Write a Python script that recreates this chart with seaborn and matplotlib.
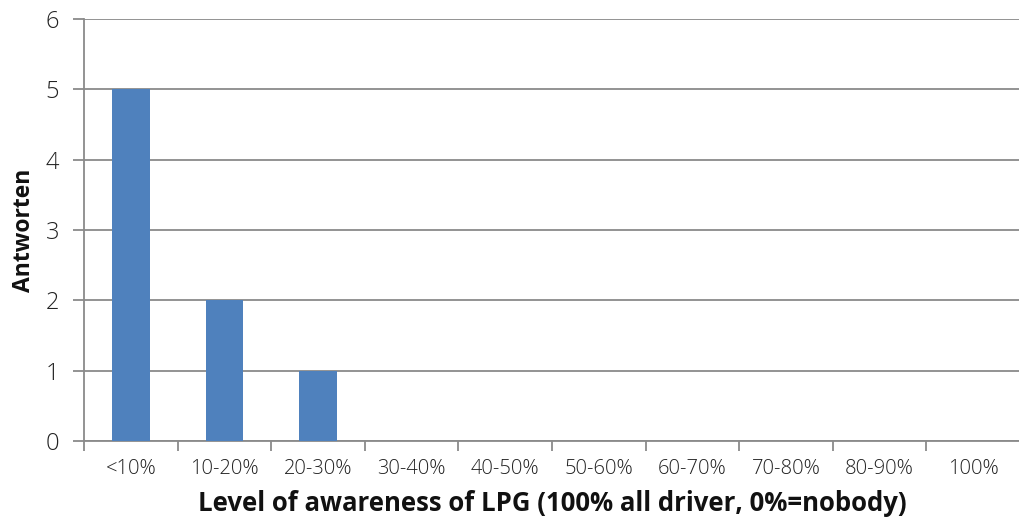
import matplotlib
matplotlib.use("Agg")
import matplotlib.pyplot as plt
import seaborn as sns
import pandas as pd

categories = ["<10%", "10-20%", "20-30%", "30-40%", "40-50%",
              "50-60%", "60-70%", "70-80%", "80-90%", "100%"]
answers = [5, 2, 1, 0, 0, 0, 0, 0, 0, 0]
y_ticks = [0, 1, 2, 3, 4, 5, 6]

sns.set_theme(style="white")
plt.rcParams["font.family"] = ["Open Sans", "DejaVu Sans"]

df = pd.DataFrame({"level": categories, "answers": answers})

W, H = 1020, 524
fig = plt.figure(figsize=(W / 100, H / 100), dpi=100)
ax = fig.add_axes([84 / W, (H - 441) / H, (W - 84) / W, (441 - 19) / H])

grid_color = "#8a8a8a"
sns.barplot(data=df, x="level", y="answers", color="#4F81BD", width=0.4,
            saturation=1, edgecolor="none", linewidth=0, ax=ax, zorder=3)

ax.set_ylim(0, 6)
ax.set_xlim(-0.5, 9.45)
ax.set_yticks(y_ticks)
ax.yaxis.grid(True, color=grid_color, linewidth=1.3, zorder=0)
ax.set_axisbelow(True)

# category boundary ticks on the x axis
ax.set_xticks(range(len(categories)))
ax.set_xticklabels(categories, fontweight="light")
ax.set_xticks([i - 0.5 for i in range(len(categories) + 1)], minor=True)
ax.tick_params(axis="x", which="major", length=0, pad=13, labelsize=14.5,
               labelcolor="#222222")
ax.tick_params(axis="x", which="minor", length=7, width=1.3, color=grid_color,
               direction="out", bottom=True)
ax.tick_params(axis="y", length=8, width=1.3, color=grid_color, pad=10,
               labelsize=17, labelcolor="#222222", left=True)
for lbl in ax.get_yticklabels():
    lbl.set_fontweight("light")

for side in ["top", "right"]:
    ax.spines[side].set_visible(False)
for side in ["left", "bottom"]:
    ax.spines[side].set_color(grid_color)
    ax.spines[side].set_linewidth(1.3)

ax.set_xlabel("Level of awareness of LPG (100% all driver, 0%=nobody)",
              fontsize=18.5, fontweight="bold", labelpad=8, color="#111111")
ax.set_ylabel("Antworten", fontsize=16.5, fontweight="bold", labelpad=7,
              color="#111111")

fig.savefig("out.png", dpi=100)
